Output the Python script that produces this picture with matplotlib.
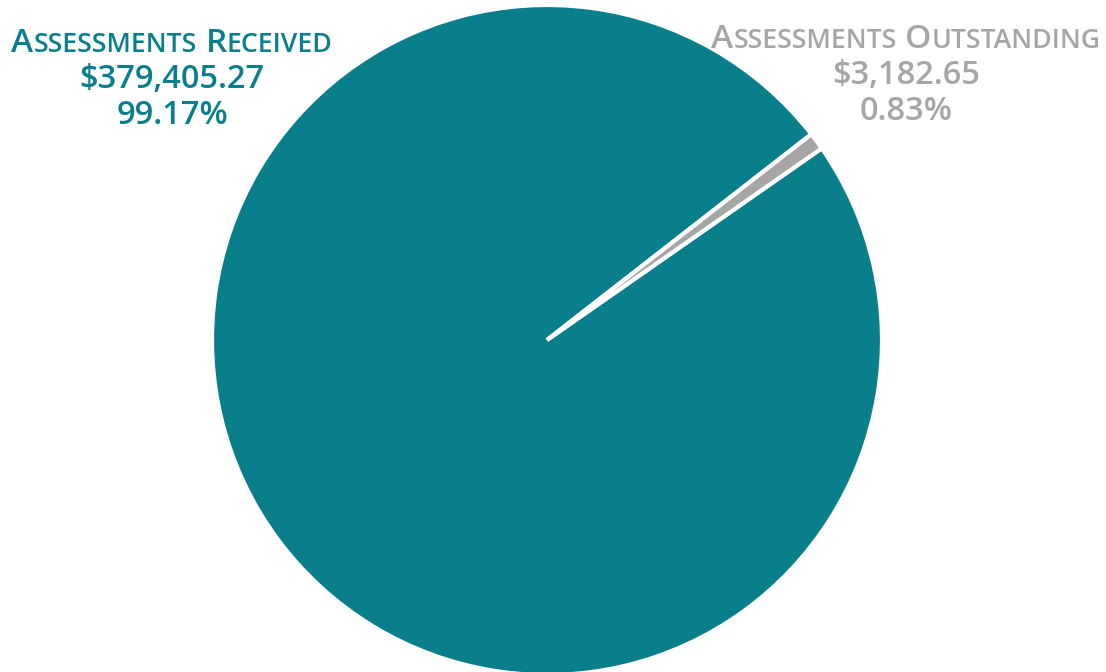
import matplotlib
matplotlib.use("Agg")
import matplotlib.pyplot as plt

# данные
labels = ["Assessments Received", "Assessments Outstanding"]
amounts = [379405.27, 3182.65]
colors = ["#0A7F8C", "#A6A6A6"]

total = sum(amounts)
shares = [a / total * 100 for a in amounts]

plt.rcParams['font.family'] = ['Open Sans', 'DejaVu Sans']

fig = plt.figure(figsize=(11.06, 6.72), dpi=100)
ax = fig.add_axes([212 / 1106, -3 / 672, 670 / 1106, 670 / 672])
ax.pie(amounts, colors=colors, startangle=37.9, counterclock=True,
       wedgeprops=dict(edgecolor="white", linewidth=3))
ax.set_xlim(-1, 1)
ax.set_ylim(-1, 1)
ax.set_aspect("equal")
ax.axis("off")

fig.canvas.draw()
renderer = fig.canvas.get_renderer()


def small_caps(text, cx, cy, size, color):
    # рисуем капитель кусочками: заглавные крупно, остальное мельче
    pieces = []
    for word_i, word in enumerate(text.split(" ")):
        if word_i > 0:
            pieces.append((" ", size * 0.8))
        pieces.append((word[0].upper(), size))
        pieces.append((word[1:].upper(), size * 0.8))
    widths = []
    objs = []
    for s, fs in pieces:
        t = fig.text(0, 0, s, fontsize=fs, color=color, fontweight="semibold",
                     ha="left", va="baseline")
        bb = t.get_window_extent(renderer)
        if s == " ":
            w = fs * 0.45
        else:
            w = bb.width
        widths.append(w)
        objs.append(t)
    x = cx - sum(widths) / 2
    for t, w in zip(objs, widths):
        t.set_position((x / 1106, 1 - cy / 672))
        x += w


def label_block(name, amount, pct, cx, y0, color):
    small_caps(name, cx, y0, 24, color)
    fig.text(cx / 1106, 1 - (y0 + 36) / 672, "${:,.2f}".format(amount),
             fontsize=23.5, color=color, fontweight="semibold", ha="center", va="baseline")
    fig.text(cx / 1106, 1 - (y0 + 72) / 672, "{:.2f}%".format(pct),
             fontsize=23.5, color=color, fontweight="semibold", ha="center", va="baseline")


label_block(labels[0], amounts[0], shares[0], 172, 52, colors[0])
label_block(labels[1], amounts[1], shares[1], 906, 48, colors[1])

fig.savefig("out.png", dpi=100)
